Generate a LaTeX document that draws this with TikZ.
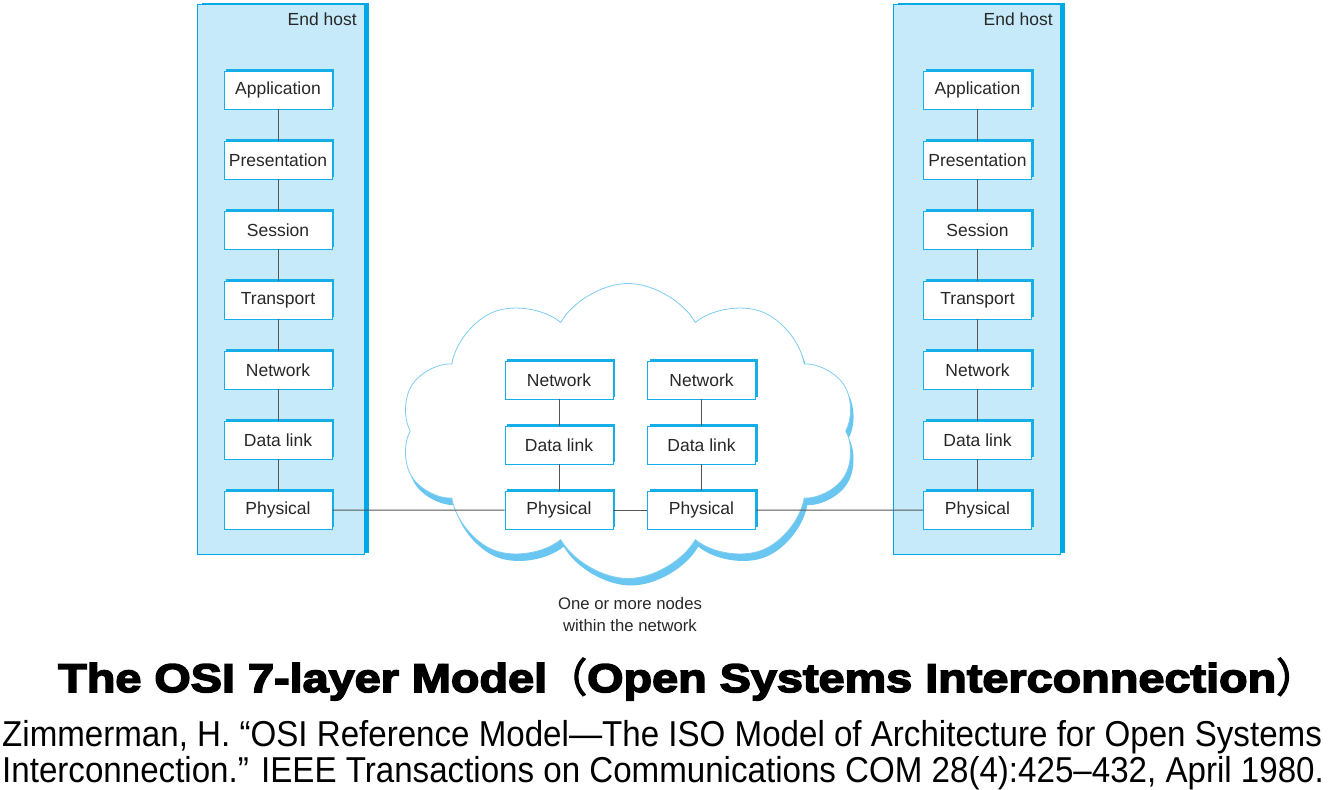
\documentclass[tikz,border=0pt]{standalone}
\usepackage{fontspec}
\setmainfont{Liberation Sans}
\newfontfamily\titlefont[FakeBold=4,FakeStretch=1.17]{Liberation Sans Bold}
\newfontfamily\cjk[FakeBold=3]{Noto Sans CJK SC}
\newfontfamily\citefont[FakeStretch=0.92]{Liberation Sans}
\usepackage{xcolor}
\usetikzlibrary{positioning, shapes.symbols, shadows}

\definecolor{hostfill}{RGB}{199,234,250}
\definecolor{hostedge}{RGB}{0,168,232}
\definecolor{boxedge}{RGB}{20,175,232}
\definecolor{cloudline}{RGB}{125,205,240}
\definecolor{cloudshade}{RGB}{105,198,240}
\definecolor{wirecol}{RGB}{85,85,85}
\definecolor{ink}{RGB}{40,40,40}

\begin{document}
\begin{tikzpicture}[
  x=1pt, y=-1pt,
  node distance=31.2pt,
  host/.style={draw=hostedge, line width=0.8pt, fill=hostfill, minimum width=167pt, minimum height=550pt, inner sep=0pt,
    drop shadow={shadow xshift=4.5pt, shadow yshift=1.5pt, fill=hostedge, opacity=1}},
  layerbox/.style={draw=boxedge, line width=0.8pt, fill=white, minimum width=108pt, minimum height=38pt, inner sep=0pt,
    text=ink, font=\fontsize{17.5}{20}\selectfont,
    drop shadow={shadow xshift=2pt, shadow yshift=2pt, fill=boxedge, opacity=1}},
  netcloud/.style={cloud, cloud puffs=10, cloud puff arc=120, draw=cloudline, line width=0.8pt, fill=white,
    minimum width=455pt, minimum height=295pt,
    drop shadow={shadow xshift=3pt, shadow yshift=-7pt, fill=cloudshade, opacity=1}},
  wire/.style={draw=wirecol, line width=1pt},
  note/.style={text=ink, font=\fontsize{17.5}{20}\selectfont, inner sep=0pt}
]
\useasboundingbox (0,0) rectangle (1342,790);

% end hosts and the network
\node[host] (lhost) at (280.5,279.75) {};
\node[host] (rhost) at (976.5,279.75) {};
\node[note, anchor=east] (lhostlabel) at (357,19) {End host};
\node[note, anchor=east] (rhostlabel) at (1053,19) {End host};
\node[netcloud] (net) at (628,431) {};
\node[note, align=center, font=\fontsize{16.7}{22}\selectfont] (netlabel) at (630,615) {One or more nodes\\within the network};

% left host stack
\node[layerbox] (lapp) at (278,90) {Application};
\node[layerbox, below=of lapp] (lpres) {Presentation};
\node[layerbox, below=of lpres] (lsess) {Session};
\node[layerbox, below=of lsess] (ltrans) {Transport};
\node[layerbox, below=of ltrans] (lnet) {Network};
\node[layerbox, below=of lnet] (llink) {Data link};
\node[layerbox, below=of llink] (lphys) {Physical};

% right host stack
\node[layerbox] (rapp) at (977.5,90) {Application};
\node[layerbox, below=of rapp] (rpres) {Presentation};
\node[layerbox, below=of rpres] (rsess) {Session};
\node[layerbox, below=of rsess] (rtrans) {Transport};
\node[layerbox, below=of rtrans] (rnet) {Network};
\node[layerbox, below=of rnet] (rlink) {Data link};
\node[layerbox, below=of rlink] (rphys) {Physical};

% nodes inside the network
\node[layerbox] (anet) at (559,380) {Network};
\node[layerbox, below=26.2pt of anet] (alink) {Data link};
\node[layerbox, below=26.2pt of alink] (aphys) {Physical};
\node[layerbox] (bnet) at (701.5,380) {Network};
\node[layerbox, below=26.2pt of bnet] (blink) {Data link};
\node[layerbox, below=26.2pt of blink] (bphys) {Physical};

\draw[wire] (lapp) -- (lpres);
\draw[wire] (lpres) -- (lsess);
\draw[wire] (lsess) -- (ltrans);
\draw[wire] (ltrans) -- (lnet);
\draw[wire] (lnet) -- (llink);
\draw[wire] (llink) -- (lphys);
\draw[wire] (rapp) -- (rpres);
\draw[wire] (rpres) -- (rsess);
\draw[wire] (rsess) -- (rtrans);
\draw[wire] (rtrans) -- (rnet);
\draw[wire] (rnet) -- (rlink);
\draw[wire] (rlink) -- (rphys);
\draw[wire] (anet) -- (alink);
\draw[wire] (alink) -- (aphys);
\draw[wire] (bnet) -- (blink);
\draw[wire] (blink) -- (bphys);
\draw[wire] (lphys) -- (aphys);
\draw[wire] (aphys) -- (bphys);
\draw[wire] (bphys) -- (rphys);

% title and reference
\node[anchor=base west, inner sep=0pt, font=\titlefont\fontsize{40}{42}\selectfont] (title) at (58,692)
  {The OSI 7-layer Model{\cjk （}Open Systems Interconnection{\cjk ）}};
\node[anchor=base west, inner sep=0pt, font=\citefont\fontsize{36}{40}\selectfont] (cite1) at (2,746)
  {Zimmerman, H. “OSI Reference Model—The ISO Model of Architecture for Open Systems};
\node[anchor=base west, inner sep=0pt, font=\citefont\fontsize{36}{40}\selectfont] (cite2) at (2,782)
  {Interconnection.” IEEE Transactions on Communications COM 28(4):425–432, April 1980.};
\end{tikzpicture}
\end{document}
